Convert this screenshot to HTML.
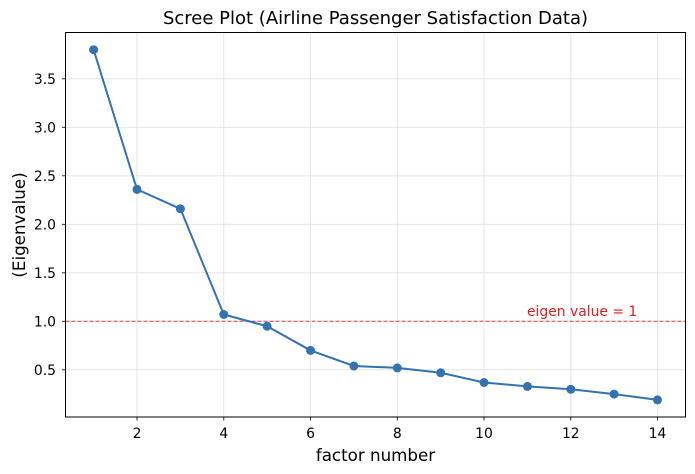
<!DOCTYPE html>
<html><head><style>body{margin:0;background:#fff}svg{display:block}text{font-family:"DejaVu Sans","Liberation Sans",sans-serif}</style></head><body>
<svg width="695" height="474" xmlns="http://www.w3.org/2000/svg">
<rect width="695" height="474" fill="#fff"/>
<g stroke="#e0e0e0" stroke-width="0.8">
<line x1="137" y1="33" x2="137" y2="417"/><line x1="223.8" y1="33" x2="223.8" y2="417"/><line x1="310.5" y1="33" x2="310.5" y2="417"/><line x1="397.3" y1="33" x2="397.3" y2="417"/><line x1="484" y1="33" x2="484" y2="417"/><line x1="570.8" y1="33" x2="570.8" y2="417"/><line x1="657.5" y1="33" x2="657.5" y2="417"/>
<line x1="65.5" y1="369.8" x2="685.5" y2="369.8"/><line x1="65.5" y1="321.3" x2="685.5" y2="321.3"/><line x1="65.5" y1="272.8" x2="685.5" y2="272.8"/><line x1="65.5" y1="224.3" x2="685.5" y2="224.3"/><line x1="65.5" y1="175.8" x2="685.5" y2="175.8"/><line x1="65.5" y1="127.3" x2="685.5" y2="127.3"/><line x1="65.5" y1="78.8" x2="685.5" y2="78.8"/>
</g>
<line x1="65.5" y1="321.3" x2="685.5" y2="321.3" stroke="#d62728" stroke-width="1" stroke-dasharray="4,2" opacity="0.85"/>
<text x="527" y="316" font-size="13.9" fill="#e31a1c">eigen value = 1</text>
<polyline fill="none" stroke="#3572b0" stroke-width="2" points="93.6,49.7 137,189.4 180.4,208.8 223.8,314.5 267.1,326.2 310.5,350.4 353.9,366.0 397.3,367.9 440.7,372.8 484,382.5 527.4,386.4 570.8,389.3 614.1,394.1 657.5,399.9"/>
<g fill="#3572b0">
<circle cx="93.6" cy="49.7" r="4.5"/><circle cx="137" cy="189.4" r="4.5"/><circle cx="180.4" cy="208.8" r="4.5"/><circle cx="223.8" cy="314.5" r="4.5"/><circle cx="267.1" cy="326.2" r="4.5"/><circle cx="310.5" cy="350.4" r="4.5"/><circle cx="353.9" cy="366.0" r="4.5"/><circle cx="397.3" cy="367.9" r="4.5"/><circle cx="440.7" cy="372.8" r="4.5"/><circle cx="484" cy="382.5" r="4.5"/><circle cx="527.4" cy="386.4" r="4.5"/><circle cx="570.8" cy="389.3" r="4.5"/><circle cx="614.1" cy="394.1" r="4.5"/><circle cx="657.5" cy="399.9" r="4.5"/>
</g>
<rect x="65.5" y="32.5" width="620" height="384.5" fill="none" stroke="#000" stroke-width="1"/>
<g stroke="#000" stroke-width="0.8">
<line x1="137" y1="417" x2="137" y2="420.5"/><line x1="223.8" y1="417" x2="223.8" y2="420.5"/><line x1="310.5" y1="417" x2="310.5" y2="420.5"/><line x1="397.3" y1="417" x2="397.3" y2="420.5"/><line x1="484" y1="417" x2="484" y2="420.5"/><line x1="570.8" y1="417" x2="570.8" y2="420.5"/><line x1="657.5" y1="417" x2="657.5" y2="420.5"/>
<line x1="62" y1="369.8" x2="65.5" y2="369.8"/><line x1="62" y1="321.3" x2="65.5" y2="321.3"/><line x1="62" y1="272.8" x2="65.5" y2="272.8"/><line x1="62" y1="224.3" x2="65.5" y2="224.3"/><line x1="62" y1="175.8" x2="65.5" y2="175.8"/><line x1="62" y1="127.3" x2="65.5" y2="127.3"/><line x1="62" y1="78.8" x2="65.5" y2="78.8"/>
</g>
<g font-size="13.9" fill="#000" text-anchor="middle">
<text x="137" y="438">2</text><text x="223.8" y="438">4</text><text x="310.5" y="438">6</text><text x="397.3" y="438">8</text><text x="484" y="438">10</text><text x="570.8" y="438">12</text><text x="657.5" y="438">14</text>
</g>
<g font-size="13.9" fill="#000" text-anchor="end">
<text x="56" y="374.8">0.5</text><text x="56" y="326.3">1.0</text><text x="56" y="277.8">1.5</text><text x="56" y="229.3">2.0</text><text x="56" y="180.8">2.5</text><text x="56" y="132.3">3.0</text><text x="56" y="83.8">3.5</text>
</g>
<text x="375.5" y="461" font-size="16.7" text-anchor="middle">factor number</text>
<text transform="translate(25,225) rotate(-90)" font-size="16.7" text-anchor="middle">(Eigenvalue)</text>
<text x="375.5" y="24" font-size="18" text-anchor="middle">Scree Plot (Airline Passenger Satisfaction Data)</text>
</svg>
</body></html>
